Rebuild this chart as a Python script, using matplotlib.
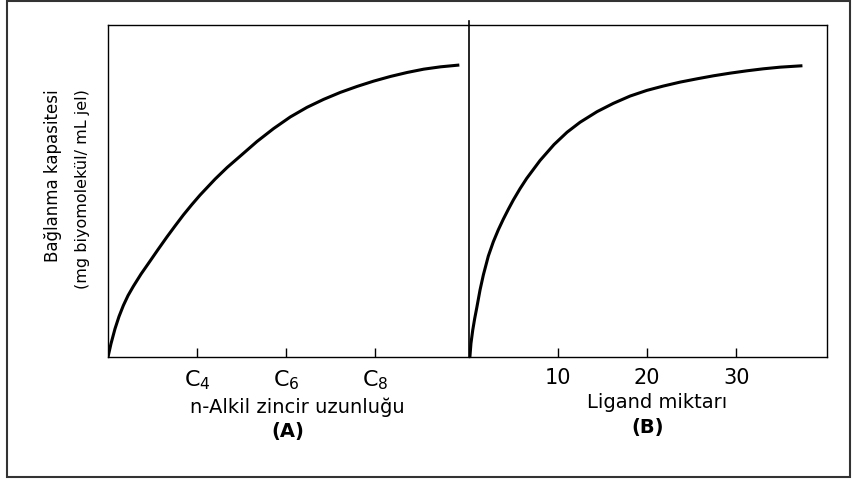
import matplotlib
matplotlib.use("Agg")
import matplotlib.pyplot as plt
from matplotlib.patches import Rectangle
from matplotlib.lines import Line2D

# panel A: binding capacity vs n-alkyl chain length (x = carbon number)
alkil_x = [2.0, 2.067, 2.157, 2.247, 2.344, 2.449, 2.569, 2.742, 2.944,
           3.124, 3.319, 3.506, 3.692, 3.881, 4.067, 4.404, 4.674, 4.966,
           5.342, 5.715, 6.090, 6.465, 6.838, 7.213, 7.589, 7.962, 8.337,
           8.712, 9.085, 9.461, 9.849]
alkil_y = [0, 4.0, 8.5, 12.2, 15.5, 18.5, 21.3, 25.0, 28.9,
           32.4, 36.1, 39.5, 42.8, 45.9, 48.8, 53.6, 57.1, 60.5,
           64.9, 68.8, 72.3, 75.2, 77.6, 79.7, 81.5, 83.1, 84.5,
           85.7, 86.7, 87.4, 87.9]
alkil_ticks = [4, 6, 8]
alkil_labels = ["C$_4$", "C$_6$", "C$_8$"]

# panel B: binding capacity vs ligand amount
ligand_x = [0.1, 0.22, 0.42, 0.64, 0.87, 1.24, 1.61, 2.17, 2.73, 3.29,
            3.85, 4.42, 4.98, 5.73, 6.48, 7.98, 9.55, 11.01, 12.47, 14.38,
            16.21, 18.09, 19.97, 21.80, 23.71, 25.62, 27.45, 29.33, 31.20,
            33.03, 34.94, 37.27]
ligand_y = [0, 4.1, 8.1, 11.6, 14.8, 20.2, 24.7, 30.4, 34.7, 38.3,
            41.5, 44.5, 47.3, 50.7, 53.8, 59.2, 64.0, 67.7, 70.7, 73.9,
            76.4, 78.6, 80.3, 81.6, 82.8, 83.8, 84.7, 85.5, 86.2,
            86.8, 87.3, 87.7]
ligand_ticks = [10, 20, 30]

W, H = 852, 479


def fx(px):
    return px / W


def fy(py):
    return 1 - py / H


fig = plt.figure(figsize=(W / 100, H / 100), dpi=100)

# outer frame
fig.add_artist(Rectangle((fx(7), fy(477)), fx(850) - fx(7), fy(1) - fy(477),
                         transform=fig.transFigure, fill=False,
                         edgecolor="#333333", linewidth=1.5))

axA = fig.add_axes([fx(108), fy(357), fx(469) - fx(108), fy(25) - fy(357)])
axB = fig.add_axes([fx(469), fy(357), fx(827) - fx(469), fy(25) - fy(357)])

axA.plot(alkil_x, alkil_y, color="black", linewidth=2.2,
         solid_joinstyle="round")
axA.set_xlim(2, 10.1)
axA.set_xticks(alkil_ticks)
axA.set_xticklabels(alkil_labels, fontsize=16)

axB.plot(ligand_x, ligand_y, color="black", linewidth=2.2,
         solid_joinstyle="round")
axB.set_xlim(0, 40.2)
axB.set_xticks(ligand_ticks)
axB.set_xticklabels([str(t) for t in ligand_ticks], fontsize=15)

for ax in (axA, axB):
    ax.set_ylim(0, 100)
    ax.set_yticks([])
    ax.tick_params(axis="x", direction="in", length=6.5, width=1, pad=8)
    for s in ax.spines.values():
        s.set_linewidth(1.0)
axA.spines["right"].set_visible(False)
axB.spines["left"].set_visible(False)

# divider between the panels, sticking out a little at the top
fig.add_artist(Line2D([fx(469), fx(469)], [fy(357), fy(21)],
                      transform=fig.transFigure, color="black", linewidth=1.2))

# axis titles
fig.text(fx(297), fy(407), "n-Alkil zincir uzunluğu", fontsize=14,
         ha="center", va="center")
fig.text(fx(288), fy(432), "(A)", fontsize=14, fontweight="bold",
         ha="center", va="center")
fig.text(fx(657), fy(403), "Ligand miktarı", fontsize=14,
         ha="center", va="center")
fig.text(fx(648), fy(428), "(B)", fontsize=14, fontweight="bold",
         ha="center", va="center")

fig.text(fx(53), fy(89), "Bağlanma kapasitesi", fontsize=12, rotation=90,
         ha="center", va="top")
fig.text(fx(82), fy(89), "(mg biyomolekül/ mL jel)", fontsize=11.5,
         rotation=90, ha="center", va="top")

fig.savefig("out.png", dpi=100)
